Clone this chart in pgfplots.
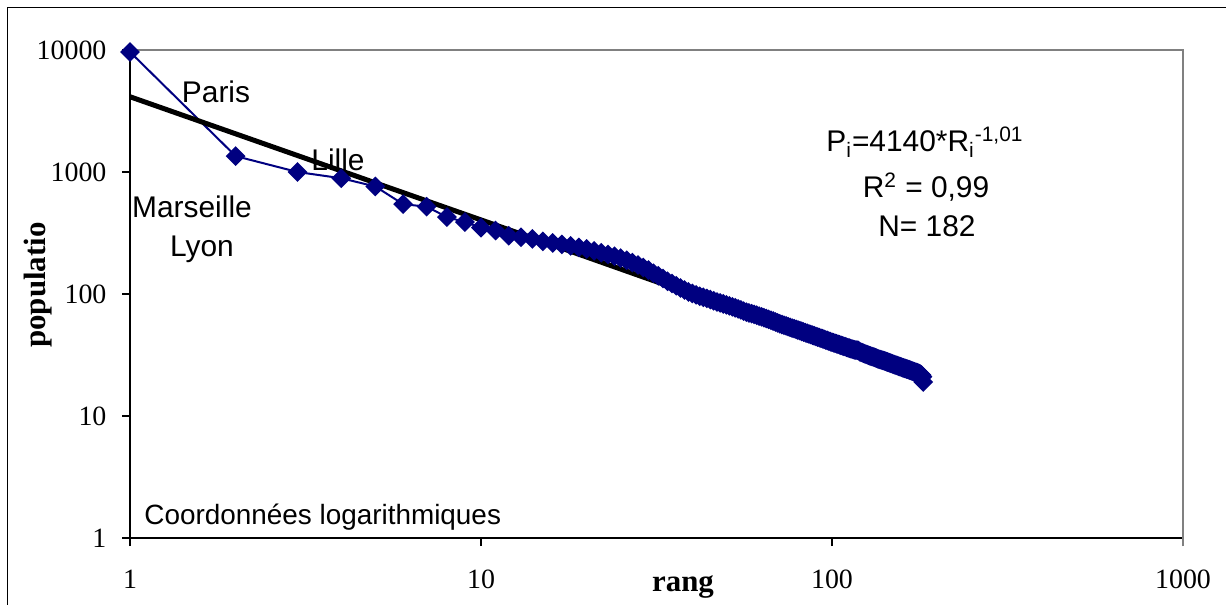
\documentclass[border=0pt]{standalone}
\usepackage{pgfplots}
\pgfplotsset{compat=1.18}
\usepackage{fontspec}
\setmainfont{Liberation Serif}
\newfontfamily\arial{Liberation Sans}
\definecolor{navy}{RGB}{0,0,128}
\begin{document}
\begin{tikzpicture}
\useasboundingbox (0,0) rectangle (613bp,-302.5bp);
\begin{axis}[
  at={(65bp,-269bp)}, anchor=south west,
  scale only axis, width=526.5bp, height=244bp,
  xmode=log, ymode=log, xmin=1, xmax=1000, ymin=1, ymax=10000,
  xtick={1,10,100,1000}, xticklabels={1,10,100,1000},
  ytick={1,10,100,1000,10000}, yticklabels={1,10,100,1000,10000},
  xminorticks=false, yminorticks=false,
  axis x line*=bottom, axis y line*=left,
  axis line style={black, line width=0.6bp, -},
  tick align=outside, major tick length=4bp,
  tick style={black, line width=0.6bp},
  ticklabel style={font=\fontsize{14}{16}\selectfont},
  /pgf/number format/assume math mode=true,
  yticklabel style={xshift=-4.3bp},
  xticklabel style={yshift=-8.3bp},
  clip=false,
]
\draw[gray, line width=0.6bp] (rel axis cs:0,1) -- (rel axis cs:1,1) -- (rel axis cs:1,0) -- ([yshift=-4bp]rel axis cs:1,0);
\addplot[navy, line width=1bp, mark=square*, mark size=3bp, mark options={rotate=45, solid, fill=navy}] coordinates {
(1,9644) (2,1350) (3,1000) (4,889) (5,761) (6,545) (7,520) (8,427) (9,389) (10,350)
(11,331) (12,300) (13,292) (14,283) (15,270) (16,262) (17,255) (18,248) (19,241) (20,234)
(21,226) (22,218) (23,211) (24,204) (25,197) (26,189) (27,181) (28,173) (29,165) (30,157)
(31,148) (32,141) (33,134) (34,127) (35,122) (36,117) (37,112) (38,108) (39,104) (40,101)
(41,98.5) (42,96) (43,94) (44,92) (45,90) (46,88) (47,86) (48,84.5) (49,83) (50,81.5)
(51,80) (52,78.5) (53,77) (54,75.5) (55,74) (56,72.5) (57,71) (58,70) (59,69) (60,68)
(61,67) (62,66) (63,65) (64,64) (65,63) (66,62) (67,61) (68,60) (69,59) (70,58)
(71,57) (72,56.2) (73,55.5) (74,54.8) (75,54) (76,53.3) (77,52.6) (78,52) (79,51.3) (80,50.6)
(81,50) (82,49.4) (83,48.8) (84,48.2) (85,47.6) (86,47) (87,46.5) (88,46) (89,45.4) (90,44.9)
(91,44.4) (92,43.9) (93,43.4) (94,43) (95,42.5) (96,42) (97,41.6) (98,41.1) (99,40.7) (100,40.3)
(101,39.9) (102,39.5) (103,39.1) (104,38.7) (105,38.4) (106,38) (107,37.6) (108,37.3) (109,37) (110,36.6)
(111,36.3) (112,36) (113,35.7) (114,35.4) (115,35.1) (116,34.9) (117,34.7) (118,34.6) (119,34.4) (120,33.6)
(121,33.3) (122,33) (123,32.7) (124,32.4) (125,32.1) (126,31.8) (127,31.5) (128,31.2) (129,31) (130,30.8)
(131,30.5) (132,30.3) (133,30) (134,29.8) (135,29.5) (136,29.3) (137,29.1) (138,28.9) (139,28.7) (140,28.5)
(141,28.3) (142,28.1) (143,27.9) (144,27.7) (145,27.5) (146,27.3) (147,27.1) (148,26.9) (149,26.7) (150,26.5)
(151,26.3) (152,26.1) (153,26) (154,25.8) (155,25.6) (156,25.4) (157,25.3) (158,25.1) (159,24.9) (160,24.8)
(161,24.6) (162,24.5) (163,24.3) (164,24.2) (165,24) (166,23.9) (167,23.7) (168,23.6) (169,23.4) (170,23.3)
(171,23.1) (172,23) (173,22.8) (174,22.7) (175,22.6) (176,22.4) (177,22.3) (178,22.1) (179,21.9) (180,21.6)
(181,21) (182,19)
};
\addplot[black, line width=2.5bp, no marks] coordinates {
(1,4140) (2,2056) (5,815) (10,405) (20,201) (30,133) (50,79.6) (100,39.5) (150,26.5) (182,21.6)
};
\end{axis}
\begin{scope}[x=0.5bp, y=-0.5bp]
\draw[black, line width=0.75bp] (7.5,605) -- (7.5,7.5) -- (1226,7.5);
\begin{scope}[every node/.style={font=\arial\fontsize{15}{18}\selectfont, inner sep=0pt}]
\node[anchor=base] at (216,103) {Paris};
\node[anchor=base] at (338,171) {Lille};
\node[anchor=base] at (192,218) {Marseille};
\node[anchor=base] at (202,257) {Lyon};
\node[anchor=base west, font=\arial\fontsize{14}{16}\selectfont] at (144,525) {Coordonnées logarithmiques};
\node[anchor=base] at (925,152) {P\textsubscript{i}=4140*R\textsubscript{i}\textsuperscript{-1,01}};
\node[anchor=base] at (926,198) {R\textsuperscript{2} = 0,99};
\node[anchor=base] at (927,237) {N= 182};
\end{scope}
\node[font=\bfseries\fontsize{15.5}{18}\selectfont, anchor=base, inner sep=0pt] at (683,592) {rang};
\node[font=\bfseries\fontsize{15.5}{18}\selectfont, anchor=base, rotate=90, inner sep=0pt] at (45,285) {populatio};
\end{scope}
\end{tikzpicture}
\end{document}
